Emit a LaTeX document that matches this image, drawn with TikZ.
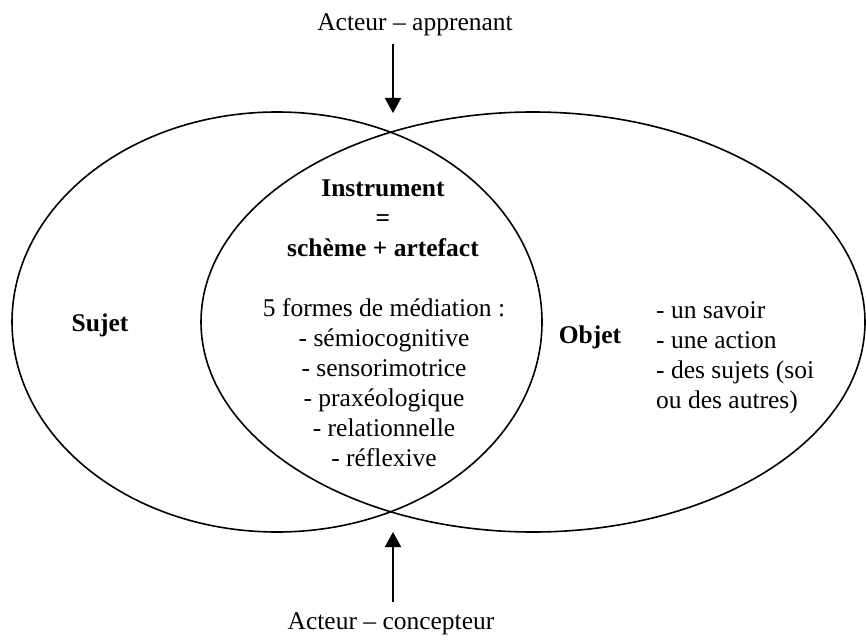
\documentclass[tikz,border=0pt]{standalone}
\usepackage{fontspec}
\setmainfont{Liberation Serif}
\usetikzlibrary{arrows.meta}
\begin{document}
\begin{tikzpicture}[x=1pt,y=-1pt,
  ell/.style={draw=black,line width=1.6pt},
  lbl/.style={font=\fontsize{25.5}{30}\selectfont,inner sep=0pt,align=center},
  bl/.style={lbl,font=\fontsize{25.5}{30}\selectfont\bfseries},
  arr/.style={line width=1.8pt,-{Triangle[width=16pt,length=15pt]}}]
\useasboundingbox (0,0) rectangle (866,639);
\draw[ell] (277,322) ellipse [x radius=265, y radius=210];
\draw[ell] (533,322) ellipse [x radius=332, y radius=210];
\node[lbl] (app) at (415,25) {Acteur -- apprenant};
\node[lbl] (con) at (391,624) {Acteur -- concepteur};
\coordinate (t1) at (393,44);
\coordinate (t2) at (393,113);
\coordinate (b1) at (393,602);
\coordinate (b2) at (393,532);
\draw[arr] (t1) -- (t2);
\draw[arr] (b1) -- (b2);
\node[bl] (suj) at (100,325) {Sujet};
\node[bl] (obj) at (590,337) {Objet};
\node[bl] (ins) at (383,218) {Instrument\\=\\schème + artefact};
\node[lbl] (med) at (384,383) {5 formes de médiation :\\- sémiocognitive\\- sensorimotrice\\- praxéologique\\- relationnelle\\- réflexive};
\node[lbl,align=left,anchor=west] (lst) at (656,358) {- un savoir\\- une action\\- des sujets (soi\\ou des autres)};
\end{tikzpicture}
\end{document}
